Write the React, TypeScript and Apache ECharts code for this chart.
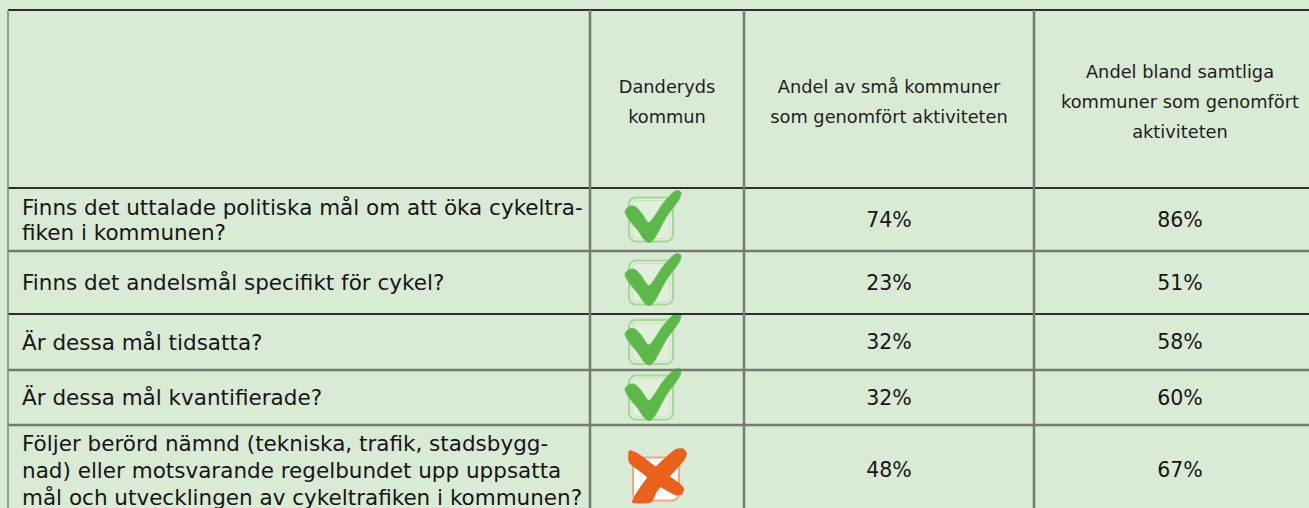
import React, { useEffect, useRef } from "react";
import * as echarts from "echarts";

// ---- data ----
const headers = [
  "",
  "Danderyds\nkommun",
  "Andel av små kommuner\nsom genomfört aktiviteten",
  "Andel bland samtliga\nkommuner som genomfört\naktiviteten",
];
const questions = [
  "Finns det uttalade politiska mål om att öka cykeltra-\nfiken i kommunen?",
  "Finns det andelsmål specifikt för cykel?",
  "Är dessa mål tidsatta?",
  "Är dessa mål kvantifierade?",
  "Följer berörd nämnd (tekniska, trafik, stadsbygg-\nnad) eller motsvarande regelbundet upp uppsatta\nmål och utvecklingen av cykeltrafiken i kommunen?",
];
const danderyd = [true, true, true, true, false];
const smallShare = [74, 23, 32, 32, 48];
const allShare = [86, 51, 58, 60, 67];

// ---- layout ----
const W = 1309;
const H = 508;
const BG = "#d9ead5";
const colX = [8, 590, 744, 1034, 1326];
const rowY = [10, 188, 251, 314, 370, 425, 515];
const darkLines = [0, 1, 3]; // indices into rowY drawn dark
const FONT = '"DejaVu Sans", "Open Sans", sans-serif';

function checkIcon(cx: number, cy: number): any {
  const s = 44;
  const x0 = cx - s / 2;
  const y0 = cy - s / 2;
  return {
    type: "group",
    x: x0,
    y: y0,
    children: [
      {
        type: "rect",
        shape: { x: 0, y: 0, width: s, height: s, r: 7 },
        style: { fill: "rgba(240,250,236,0.35)", stroke: "#a6d699", lineWidth: 2 },
      },
      {
        type: "rect",
        shape: { x: 3, y: 3, width: s - 6, height: s - 6, r: 5 },
        style: { fill: "none", stroke: "#c4e5ba", lineWidth: 1 },
      },
      {
        type: "polygon",
        shape: {
          points: [
            [-4, 14],
            [0, 9],
            [6, 9],
            [12, 15],
            [20, 25],
            [34, 6],
            [43, -4],
            [48, -7],
            [52, -5],
            [50, 2],
            [37, 20],
            [26, 40],
            [21, 45],
            [16, 43],
            [9, 33],
            [0, 22],
          ],
          smooth: 0.25,
        },
        style: { fill: "#5cb848", stroke: "#6cc258", lineWidth: 1 },
      },
    ],
  };
}

function crossIcon(cx: number, cy: number): any {
  const w = 46;
  const h = 43;
  const x0 = cx - w / 2;
  const y0 = cy - h / 2;
  return {
    type: "group",
    x: x0,
    y: y0,
    children: [
      {
        type: "rect",
        shape: { x: 0, y: 0, width: w, height: h, r: 7 },
        style: { fill: "#ffffff", stroke: "#f2a683", lineWidth: 2 },
      },
      {
        type: "polygon",
        shape: {
          points: [
            [-4, -7],
            [5, -4],
            [28, 13],
            [47, 26],
            [51, 31],
            [49, 37],
            [43, 38],
            [25, 28],
            [7, 14],
            [-4, 5],
          ],
          smooth: 0.2,
        },
        style: { fill: "#e9611b" },
      },
      {
        type: "polygon",
        shape: {
          points: [
            [42, -8],
            [50, -9],
            [54, -4],
            [51, 3],
            [37, 19],
            [24, 34],
            [18, 45],
            [-1, 45],
            [7, 30],
            [23, 9],
          ],
          smooth: 0.2,
        },
        style: { fill: "#e9611b" },
      },
    ],
  };
}

function buildGraphics(): any[] {
  const els: any[] = [];
  rowY.forEach((y, i) => {
    if (i === rowY.length - 1) return;
    const dark = darkLines.includes(i);
    els.push({
      type: "line",
      shape: { x1: colX[0], y1: y, x2: W + 20, y2: y },
      style: { stroke: dark ? "#2e2e2e" : "#727c70", lineWidth: dark ? 2 : 2.5 },
      z: 1,
    });
  });
  colX.forEach((x, i) => {
    els.push({
      type: "line",
      shape: { x1: x, y1: rowY[0], x2: x, y2: H + 20 },
      style: { stroke: i === 0 ? "#7b8679" : "#727c70", lineWidth: i === 0 ? 1.5 : 2.5 },
      z: 1,
    });
  });
  headers.forEach((t, i) => {
    if (!t) return;
    els.push({
      type: "text",
      x: (colX[i] + colX[i + 1]) / 2,
      y: 101,
      style: {
        text: t,
        fill: "#1e1e1e",
        fontSize: 17.8,
        fontFamily: FONT,
        align: "center",
        verticalAlign: "middle",
        lineHeight: 30,
      },
      z: 2,
    });
  });
  questions.forEach((q, r) => {
    const cy = (rowY[r + 1] + rowY[r + 2]) / 2;
    els.push({
      type: "text",
      x: 22,
      y: cy,
      style: {
        text: q,
        fill: "#161616",
        fontSize: 21.5,
        fontFamily: FONT,
        align: "left",
        verticalAlign: "middle",
        lineHeight: r === questions.length - 1 ? 27 : 25,
      },
      z: 2,
    });
    const ic = danderyd[r] ? checkIcon(651, cy) : crossIcon(656, cy + 9);
    ic.z = 3;
    els.push(ic);
    els.push({
      type: "text",
      x: (colX[2] + colX[3]) / 2,
      y: cy,
      style: {
        text: smallShare[r] + "%",
        fill: "#161616",
        fontSize: 20.5,
        fontFamily: FONT,
        align: "center",
        verticalAlign: "middle",
      },
      z: 2,
    });
    els.push({
      type: "text",
      x: (colX[3] + colX[4]) / 2,
      y: cy,
      style: {
        text: allShare[r] + "%",
        fill: "#161616",
        fontSize: 20.5,
        fontFamily: FONT,
        align: "center",
        verticalAlign: "middle",
      },
      z: 2,
    });
  });
  return els;
}

export default function App() {
  const ref = useRef<HTMLDivElement>(null);
  useEffect(() => {
    if (!ref.current) return;
    const chart = echarts.init(ref.current, undefined, { renderer: "svg" });
    chart.setOption({
      animation: false,
      backgroundColor: BG,
      graphic: buildGraphics(),
    });
    return () => chart.dispose();
  }, []);
  return (
    <div
      ref={ref}
      style={{ position: "fixed", left: 0, top: 0, width: W, height: H, background: BG }}
    />
  );
}
